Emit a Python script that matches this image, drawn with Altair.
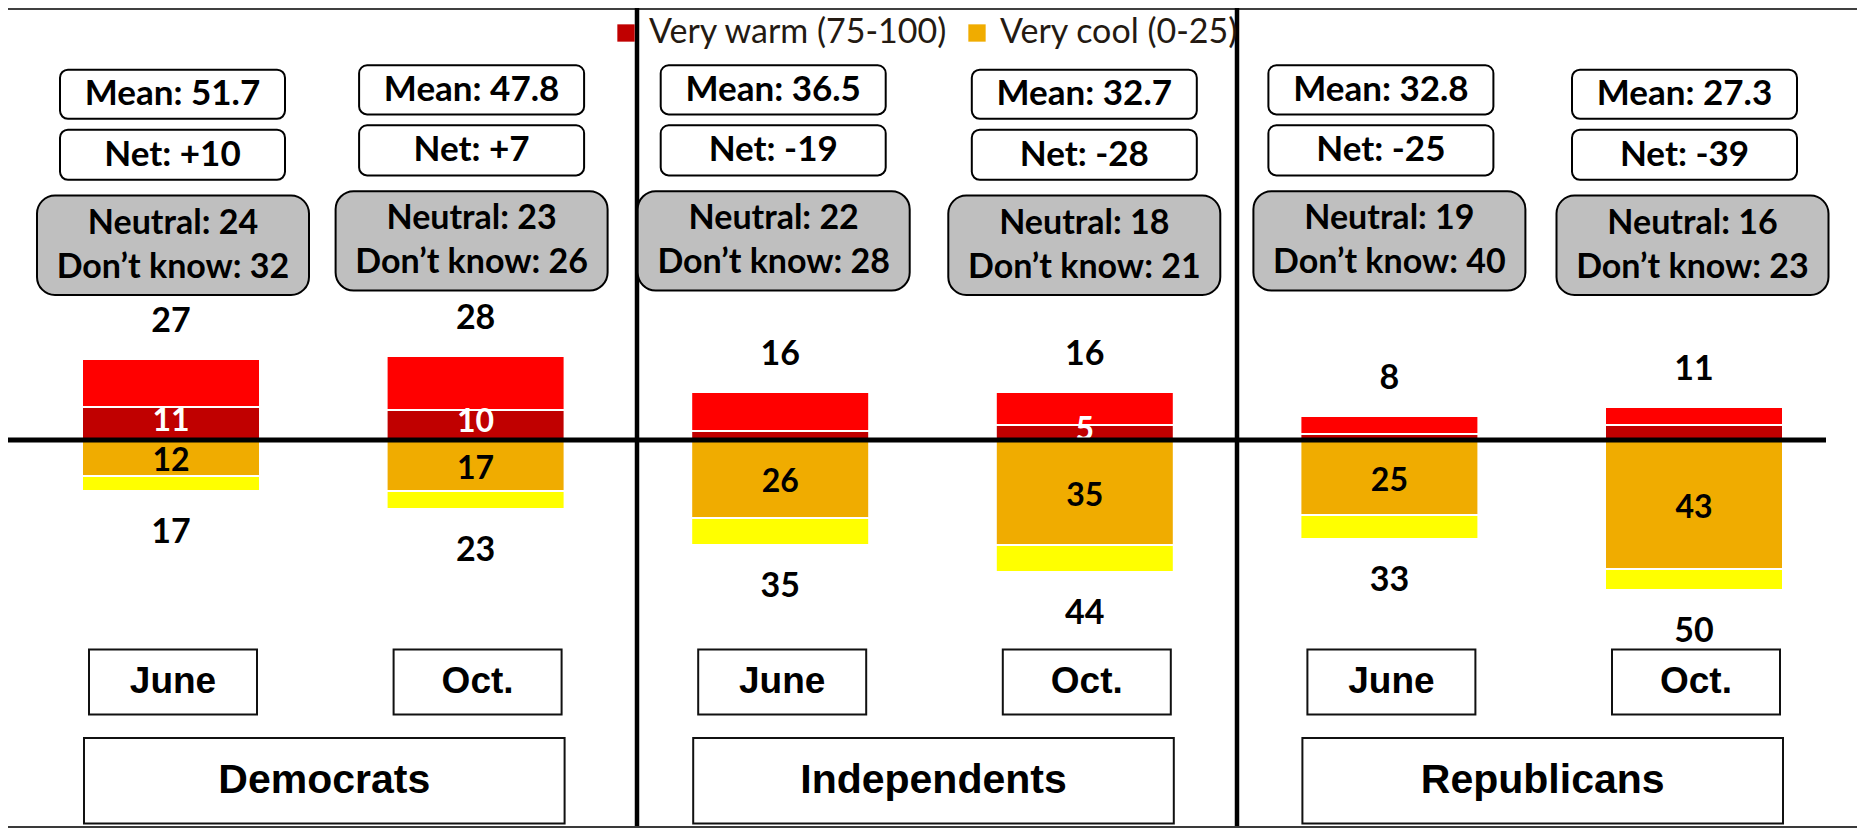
import altair as alt
import pandas as pd

# ---------------- data ----------------
parties = ["Democrats", "Independents", "Republicans"]
periods = ["June", "Oct."]
very_warm = [11, 10, 3, 5, 2, 5]          # 75-100
warm_total = [27, 28, 16, 16, 8, 11]      # all warm (51-100)
very_cool = [12, 17, 26, 35, 25, 43]      # 0-25
cool_total = [17, 23, 35, 44, 33, 50]     # all cool (0-49)
means = ["51.7", "47.8", "36.5", "32.7", "32.8", "27.3"]
nets = [10, 7, -19, -28, -25, -39]
neutral = [24, 23, 22, 18, 19, 16]
dont_know = [32, 26, 28, 21, 40, 23]
show_very_warm_label = [True, True, False, True, False, False]

seg_names = ["Very warm (75-100)", "Warm (51-74)", "Very cool (0-25)", "Cool (26-49)"]
seg_colors = ["#C00000", "#FF0000", "#F0AC00", "#FFFF00"]
legend_values = ["Very warm (75-100)", "Very cool (0-25)"]

# ---------------- layout helpers ----------------
W, H = 1849, 820
SPACING = 304.6          # px between bar centres
X_DOMAIN = [(8 - 171) / SPACING, (8 + W - 171) / SPACING]
PXU = 3.0                # px per percentage point
Y_DOMAIN = [-(H - 432) / PXU, 432 / PXU]


def xu(px):
    return (px - 171) / SPACING


def yu(px):
    return (440 - px) / 3.05


xs = alt.Scale(domain=X_DOMAIN, nice=False, zero=False)
ys = alt.Scale(domain=Y_DOMAIN, nice=False, zero=False)

HW = 89 / SPACING
n = len(very_warm)
party_of = [parties[i // 2] for i in range(n)]
period_of = [periods[i % 2] for i in range(n)]

# bars
rows = []
for i in range(n):
    segs = [
        (seg_names[0], 0, very_warm[i]),
        (seg_names[1], very_warm[i], warm_total[i]),
        (seg_names[2], 0, -very_cool[i]),
        (seg_names[3], -very_cool[i], -cool_total[i]),
    ]
    for name, a, b in segs:
        rows.append({"party": party_of[i], "period": period_of[i], "segment": name,
                     "x0": i - HW, "x1": i + HW, "y0": a, "y1": b})
bars_df = pd.DataFrame(rows)

bars = alt.Chart(bars_df).mark_rect(stroke="white", strokeWidth=2).encode(
    x=alt.X("x0:Q", scale=xs, axis=None),
    x2="x1:Q",
    y=alt.Y("y0:Q", scale=ys, axis=None),
    y2="y1:Q",
    color=alt.Color(
        "segment:N",
        scale=alt.Scale(domain=seg_names, range=seg_colors),
        legend=alt.Legend(
            values=legend_values, title=None, orient="none", legendX=601, legendY=8,
            direction="horizontal", symbolType="square", symbolSize=300,
            symbolStrokeWidth=0, labelFont="Lato", labelFontSize=34,
            labelColor="#241A12", labelOffset=6, columnPadding=12, padding=0,
            labelLimit=0,
        ),
    ),
)

# value labels
lab_rows = []
for i in range(n):
    lab_rows.append({"x": i, "y": warm_total[i] + 37 / PXU, "t": str(warm_total[i]), "kind": "total"})
    lab_rows.append({"x": i, "y": -cool_total[i] - 42 / PXU, "t": str(cool_total[i]), "kind": "total"})
    lab_rows.append({"x": i, "y": -very_cool[i] / 2 - 1, "t": str(very_cool[i]), "kind": "cool"})
    if show_very_warm_label[i]:
        lab_rows.append({"x": i, "y": very_warm[i] / 2 + 1, "t": str(very_warm[i]), "kind": "warm"})
lab_df = pd.DataFrame(lab_rows)

total_labels = alt.Chart(lab_df).transform_filter("datum.kind == 'total'").mark_text(
    font="Lato", fontWeight="bold", fontSize=34, color="black", baseline="middle"
).encode(x=alt.X("x:Q", scale=xs, axis=None), y=alt.Y("y:Q", scale=ys, axis=None), text="t:N")

cool_labels = alt.Chart(lab_df).transform_filter("datum.kind == 'cool'").mark_text(
    font="Lato", fontWeight="bold", fontSize=32, color="black", baseline="middle"
).encode(x=alt.X("x:Q", scale=xs, axis=None), y=alt.Y("y:Q", scale=ys, axis=None), text="t:N")

white_labels = alt.Chart(lab_df).transform_filter("datum.kind == 'warm'").mark_text(
    font="Lato", fontWeight="bold", fontSize=32, color="white", baseline="middle"
).encode(x=alt.X("x:Q", scale=xs, axis=None), y=alt.Y("y:Q", scale=ys, axis=None), text="t:N")

# lines
zero_df = pd.DataFrame({"x0": [xu(0)], "x1": [xu(1826)], "y": [0]})
zero_line = alt.Chart(zero_df).mark_rule(color="black", strokeWidth=5).encode(
    x=alt.X("x0:Q", scale=xs, axis=None), x2="x1:Q", y=alt.Y("y:Q", scale=ys, axis=None))

sep_df = pd.DataFrame({"x": [xu(637), xu(1237)], "y0": [yu(0), yu(0)], "y1": [yu(834), yu(834)]})
seps = alt.Chart(sep_df).mark_rule(color="black", strokeWidth=4.5).encode(
    x=alt.X("x:Q", scale=xs, axis=None), y=alt.Y("y0:Q", scale=ys, axis=None), y2="y1:Q")

top_df = pd.DataFrame({"x0": [xu(0)], "x1": [xu(1865)], "y": [Y_DOMAIN[1] - 0.3]})
top_line = alt.Chart(top_df).mark_rule(color="black", strokeWidth=1.5).encode(
    x=alt.X("x0:Q", scale=xs, axis=None), x2="x1:Q", y=alt.Y("y:Q", scale=ys, axis=None))

bot_df = pd.DataFrame({"x0": [xu(0)], "x1": [xu(1865)], "y": [yu(833.5)]})
bot_line = alt.Chart(bot_df).mark_rule(color="#3A3A3A", strokeWidth=2).encode(
    x=alt.X("x0:Q", scale=xs, axis=None), x2="x1:Q", y=alt.Y("y:Q", scale=ys, axis=None))

# annotation boxes
mean_dx = [1.5, -4, -7, -0.5, -8.5, -9.5]
neutral_dx = [2, -4, -6.5, -0.5, 0, -1.5]
drop = [4.5, 0, 0, 4.5, 0, 4.5]

box_rows, gray_rows, txt_rows, gtxt_rows = [], [], [], []
for i in range(n):
    cx = i + mean_dx[i] / SPACING
    hw = 112.5 / SPACING
    for label, top, bot in [
        (f"Mean: {means[i]}", 59, 109),
        (f"Net: {nets[i]:+d}", 120, 171),
    ]:
        t, b = top + drop[i], bot + drop[i]
        box_rows.append({"x0": cx - hw, "x1": cx + hw, "y0": yu(t), "y1": yu(b)})
        txt_rows.append({"x": cx, "y": yu((t + b) / 2), "t": label})
    gx = i + neutral_dx[i] / SPACING
    ghw = 136 / SPACING
    t, b = 187 + drop[i], 288 + drop[i]
    gray_rows.append({"x0": gx - ghw, "x1": gx + ghw, "y0": yu(t), "y1": yu(b)})
    gtxt_rows.append({"x": gx, "y": yu((t + b) / 2 - 22), "t": f"Neutral: {neutral[i]}"})
    gtxt_rows.append({"x": gx, "y": yu((t + b) / 2 + 23), "t": f"Don\u2019t know: {dont_know[i]}"})

white_boxes = alt.Chart(pd.DataFrame(box_rows)).mark_rect(
    fill="white", stroke="black", strokeWidth=2, cornerRadius=8
).encode(x=alt.X("x0:Q", scale=xs, axis=None), x2="x1:Q",
         y=alt.Y("y0:Q", scale=ys, axis=None), y2="y1:Q")

gray_boxes = alt.Chart(pd.DataFrame(gray_rows)).mark_rect(
    fill="#BFBFBF", stroke="black", strokeWidth=2, cornerRadius=18
).encode(x=alt.X("x0:Q", scale=xs, axis=None), x2="x1:Q",
         y=alt.Y("y0:Q", scale=ys, axis=None), y2="y1:Q")

box_text = alt.Chart(pd.DataFrame(txt_rows)).mark_text(
    font="Lato", fontWeight="bold", fontSize=35, color="black", baseline="middle"
).encode(x=alt.X("x:Q", scale=xs, axis=None), y=alt.Y("y:Q", scale=ys, axis=None), text="t:N")

gray_text = alt.Chart(pd.DataFrame(gtxt_rows)).mark_text(
    font="Lato", fontWeight="bold", fontSize=34, color="black", baseline="middle"
).encode(x=alt.X("x:Q", scale=xs, axis=None), y=alt.Y("y:Q", scale=ys, axis=None), text="t:N")

# category boxes at the bottom
per_rows, par_rows = [], []
for i in range(n):
    cx = i + 2 / SPACING
    per_rows.append({"x0": cx - 84 / SPACING, "x1": cx + 84 / SPACING,
                     "y0": yu(653), "y1": yu(719), "xc": cx, "yc": yu(686), "t": period_of[i]})
for g, p in enumerate(parties):
    a, b = 2 * g, 2 * g + 1
    x0, x1 = a - 87 / SPACING, b + 89 / SPACING
    par_rows.append({"x0": x0, "x1": x1, "y0": yu(743), "y1": yu(830),
                     "xc": (x0 + x1) / 2, "yc": yu(786.5), "t": p})
per_df = pd.DataFrame(per_rows)
par_df = pd.DataFrame(par_rows)

per_boxes = alt.Chart(per_df).mark_rect(fill="white", stroke="#111111", strokeWidth=2).encode(
    x=alt.X("x0:Q", scale=xs, axis=None), x2="x1:Q",
    y=alt.Y("y0:Q", scale=ys, axis=None), y2="y1:Q")
per_text = alt.Chart(per_df).mark_text(
    font="Liberation Sans", fontWeight="bold", fontSize=37, color="black", baseline="middle"
).encode(x=alt.X("xc:Q", scale=xs, axis=None), y=alt.Y("yc:Q", scale=ys, axis=None), text="t:N")

par_boxes = alt.Chart(par_df).mark_rect(fill="white", stroke="#111111", strokeWidth=2).encode(
    x=alt.X("x0:Q", scale=xs, axis=None), x2="x1:Q",
    y=alt.Y("y0:Q", scale=ys, axis=None), y2="y1:Q")
par_text = alt.Chart(par_df).mark_text(
    font="Liberation Sans", fontWeight="bold", fontSize=41, color="black", baseline="middle"
).encode(x=alt.X("xc:Q", scale=xs, axis=None), y=alt.Y("yc:Q", scale=ys, axis=None), text="t:N")

chart = alt.layer(
    bars, white_labels, zero_line, cool_labels, total_labels, seps, top_line, bot_line,
    gray_boxes, white_boxes, box_text, gray_text, per_boxes, per_text, par_boxes, par_text,
).properties(
    width=W, height=H, padding=0, autosize=alt.AutoSizeParams(type="none"),
    background="white",
).configure_view(strokeWidth=0)

chart.save("out.html", embed_options={"renderer": "svg", "actions": False})
